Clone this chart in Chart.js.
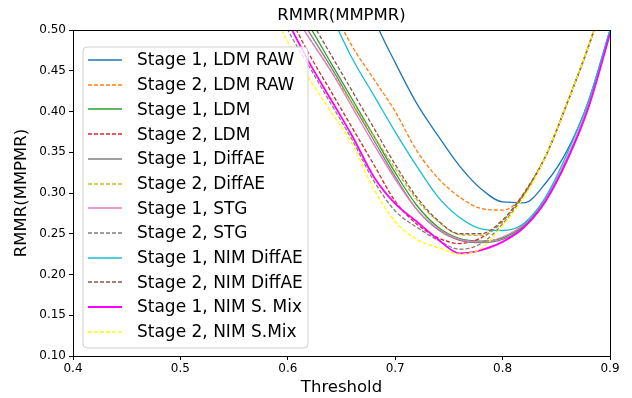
<!DOCTYPE html>
<html>
<head>
<meta charset="utf-8">
<script src="https://cdn.jsdelivr.net/npm/chart.js@4/dist/chart.umd.min.js"></script>
<style>
  html, body { margin: 0; padding: 0; background: #fff; }
  #wrap { width: 632px; height: 398px; position: relative; }
</style>
</head>
<body>
<div id="wrap"><canvas id="c" width="632" height="398"></canvas></div>
<script>
const chartTitle = 'RMMR(MMPMR)';
const thresholds = [0.58, 0.60, 0.62, 0.64, 0.66, 0.68, 0.70, 0.72, 0.74, 0.76, 0.78, 0.80, 0.82, 0.84, 0.86, 0.88, 0.90];
const xTicks = [0.4, 0.5, 0.6, 0.7, 0.8, 0.9];
const yTicks = [0.10, 0.15, 0.20, 0.25, 0.30, 0.35, 0.40, 0.45, 0.50];

const s1LdmRaw    = [0.80, 0.75, 0.70, 0.65, 0.59, 0.515, 0.46, 0.41, 0.37, 0.333, 0.305, 0.289, 0.288, 0.312, 0.352, 0.413, 0.50];
const s2LdmRaw    = [0.68, 0.63, 0.58, 0.53, 0.48, 0.44, 0.40, 0.352, 0.318, 0.295, 0.281, 0.279, 0.298, 0.345, 0.41, 0.48, 0.56];
const s1Ldm       = [0.59, 0.545, 0.505, 0.46, 0.415, 0.37, 0.325, 0.285, 0.258, 0.244, 0.241, 0.245, 0.260, 0.292, 0.342, 0.408, 0.497];
const s2Ldm       = [0.565, 0.52, 0.47, 0.425, 0.38, 0.335, 0.29, 0.262, 0.245, 0.238, 0.245, 0.265, 0.300, 0.345, 0.41, 0.48, 0.56];
const s1DiffAE    = [0.58, 0.54, 0.497, 0.455, 0.41, 0.365, 0.32, 0.28, 0.255, 0.242, 0.239, 0.243, 0.258, 0.290, 0.340, 0.406, 0.496];
const s2DiffAE    = [0.57, 0.53, 0.49, 0.45, 0.41, 0.37, 0.33, 0.292, 0.265, 0.249, 0.248, 0.266, 0.300, 0.345, 0.41, 0.48, 0.56];
const s1Stg       = [0.57, 0.53, 0.49, 0.45, 0.405, 0.36, 0.317, 0.28, 0.256, 0.243, 0.240, 0.246, 0.262, 0.293, 0.343, 0.408, 0.497];
const s2Stg       = [0.555, 0.50, 0.455, 0.41, 0.365, 0.315, 0.278, 0.258, 0.242, 0.231, 0.238, 0.262, 0.298, 0.345, 0.41, 0.48, 0.56];
const s1NimDiffAE = [0.68, 0.63, 0.58, 0.52, 0.465, 0.42, 0.375, 0.333, 0.295, 0.270, 0.256, 0.254, 0.263, 0.295, 0.348, 0.413, 0.50];
const s2NimDiffAE = [0.60, 0.56, 0.515, 0.47, 0.425, 0.38, 0.335, 0.295, 0.266, 0.250, 0.250, 0.267, 0.300, 0.345, 0.41, 0.48, 0.56];
const s1NimSMix   = [0.56, 0.51, 0.46, 0.415, 0.37, 0.32, 0.287, 0.265, 0.243, 0.226, 0.230, 0.240, 0.258, 0.290, 0.340, 0.405, 0.495];
const s2NimSMix   = [0.54, 0.485, 0.44, 0.40, 0.36, 0.305, 0.265, 0.243, 0.233, 0.225, 0.232, 0.260, 0.295, 0.345, 0.41, 0.48, 0.56];

const seriesDefs = [
  ["Stage 1, LDM RAW", s1LdmRaw, "#1f77b4", false, 1.3],
  ["Stage 2, LDM RAW", s2LdmRaw, "#ff7f0e", true, 1.3],
  ["Stage 1, LDM", s1Ldm, "#2ca02c", false, 1.3],
  ["Stage 2, LDM", s2Ldm, "#d62728", true, 1.3],
  ["Stage 1, DiffAE", s1DiffAE, "#7f7f7f", false, 1.3],
  ["Stage 2, DiffAE", s2DiffAE, "#bcbd22", true, 1.3],
  ["Stage 1, STG", s1Stg, "#e377c2", false, 1.3],
  ["Stage 2, STG", s2Stg, "#7f7f7f", true, 1.3],
  ["Stage 1, NIM DiffAE", s1NimDiffAE, "#17becf", false, 1.3],
  ["Stage 2, NIM DiffAE", s2NimDiffAE, "#8c564b", true, 1.3],
  ["Stage 1, NIM S. Mix", s1NimSMix, "#ff00ff", false, 1.8],
  ["Stage 2, NIM S.Mix", s2NimSMix, "#ffff00", true, 1.3]
];

const datasets = seriesDefs.map((d, i) => ({
  label: d[0],
  data: thresholds.map((t, k) => ({ x: t, y: d[1][k] })),
  borderColor: d[2],
  backgroundColor: d[2],
  borderDash: d[3] ? [4, 2] : [],
  borderWidth: d[4],
  pointRadius: 0,
  fill: false,
  cubicInterpolationMode: 'monotone',
  order: seriesDefs.length - i
}));

const FONT = "DejaVu Sans";

const boxLegend = {
  id: 'boxLegend',
  afterDatasetsDraw(chart) {
    const ctx = chart.ctx;
    const a = chart.chartArea;
    ctx.save();
    ctx.strokeStyle = '#000';
    ctx.lineWidth = 1;
    ctx.setLineDash([]);
    ctx.strokeRect(Math.round(a.left) + 0.5, Math.round(a.top) + 0.5, Math.round(a.right - a.left), Math.round(a.bottom - a.top));
    // title centred over the plot area
    ctx.fillStyle = '#000';
    ctx.font = '16.5px "' + FONT + '"';
    ctx.textAlign = 'center';
    ctx.textBaseline = 'middle';
    ctx.fillText(chartTitle, (a.left + a.right) / 2, 16);
    // legend
    const lx = 83, ly = 47, lw = 225, lh = 301, r = 4;
    ctx.beginPath();
    ctx.moveTo(lx + r, ly);
    ctx.lineTo(lx + lw - r, ly);
    ctx.quadraticCurveTo(lx + lw, ly, lx + lw, ly + r);
    ctx.lineTo(lx + lw, ly + lh - r);
    ctx.quadraticCurveTo(lx + lw, ly + lh, lx + lw - r, ly + lh);
    ctx.lineTo(lx + r, ly + lh);
    ctx.quadraticCurveTo(lx, ly + lh, lx, ly + lh - r);
    ctx.lineTo(lx, ly + r);
    ctx.quadraticCurveTo(lx, ly, lx + r, ly);
    ctx.closePath();
    ctx.fillStyle = 'rgba(255,255,255,0.8)';
    ctx.fill();
    ctx.strokeStyle = '#d0d0d0';
    ctx.lineWidth = 1;
    ctx.stroke();
    ctx.font = '17px "' + FONT + '"';
    ctx.textBaseline = 'middle';
    ctx.textAlign = 'left';
    chart.data.datasets.forEach((ds, i) => {
      const cy = 60 + i * 24.7;
      ctx.beginPath();
      ctx.strokeStyle = ds.borderColor;
      ctx.lineWidth = Math.max(1.6, ds.borderWidth);
      ctx.setLineDash(ds.borderDash || []);
      ctx.moveTo(88, Math.round(cy));
      ctx.lineTo(122, Math.round(cy));
      ctx.stroke();
      ctx.setLineDash([]);
      ctx.fillStyle = '#000';
      ctx.fillText(ds.label, 137, cy + 1);
    });
    ctx.restore();
  }
};

new Chart(document.getElementById('c'), {
  type: 'line',
  data: { datasets },
  plugins: [boxLegend],
  options: {
    responsive: false,
    animation: false,
    devicePixelRatio: 1,
    layout: { padding: { left: 0, right: 22, top: 30, bottom: 0 } },
    plugins: {
      legend: { display: false },
      tooltip: { enabled: false },
      title: { display: false }
    },
    scales: {
      x: {
        type: 'linear',
        min: 0.4,
        max: 0.9,
        afterFit(s) { s.height = 42; },
        afterBuildTicks(s) { s.ticks = xTicks.map(v => ({ value: v })); },
        ticks: {
          color: '#000',
          font: { family: FONT, size: 12 },
          padding: 2,
          maxRotation: 0,
          autoSkip: false,
          callback: v => Number(v).toFixed(1)
        },
        grid: { display: true, drawOnChartArea: false, drawTicks: true, tickLength: 4, color: '#000', tickColor: '#000' },
        border: { display: false },
        title: {
          display: true,
          text: 'Threshold',
          color: '#000',
          font: { family: FONT, size: 16.5 },
          padding: { top: 0, bottom: 0 }
        }
      },
      y: {
        type: 'linear',
        min: 0.1,
        max: 0.5,
        afterFit(s) { s.width = 73; },
        afterBuildTicks(s) { s.ticks = yTicks.map(v => ({ value: v })); },
        ticks: {
          color: '#000',
          font: { family: FONT, size: 12 },
          padding: 3,
          autoSkip: false,
          callback: v => Number(v).toFixed(2)
        },
        grid: { display: true, drawOnChartArea: false, drawTicks: true, tickLength: 4, color: '#000', tickColor: '#000' },
        border: { display: false },
        title: {
          display: true,
          text: 'RMMR(MMPMR)',
          color: '#000',
          font: { family: FONT, size: 16.5 },
          padding: { top: 12, bottom: 0 }
        }
      }
    }
  }
});
</script>
</body>
</html>
